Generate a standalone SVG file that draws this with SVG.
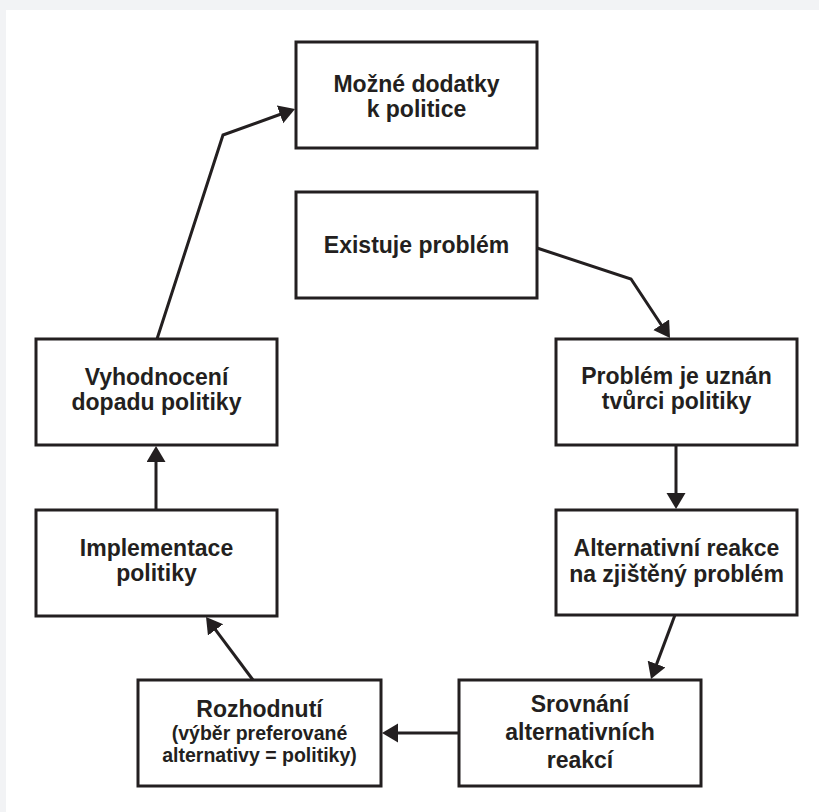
<svg xmlns="http://www.w3.org/2000/svg" width="819" height="812" viewBox="0 0 819 812">
<defs>
<style>
.box{fill:#fff;stroke:#231f20;stroke-width:3}
.t{font-family:"Liberation Sans",Arial,Helvetica,sans-serif;font-weight:bold;font-size:23px;fill:#231f20;text-anchor:middle}
.s{font-size:19.5px}
.c{fill:none;stroke:#231f20;stroke-width:3;stroke-linejoin:miter}
</style>
<marker id="ah" markerUnits="userSpaceOnUse" markerWidth="17" markerHeight="20" refX="10" refY="9.5" orient="auto">
<path d="M0,0 L16,9.5 L0,19 z" fill="#231f20"/>
</marker>
</defs>
<rect x="0" y="0" width="819" height="812" fill="#f2f3f5"/>
<rect x="6" y="10" width="813" height="802" fill="#fff"/>

<g id="n-mozne">
<rect class="box" x="296" y="42" width="241" height="106"/>
<text class="t" x="416.5" y="92">Možné dodatky</text>
<text class="t" x="416.5" y="117">k politice</text>
</g>
<g id="n-existuje">
<rect class="box" x="296" y="192" width="241" height="106"/>
<text class="t" x="416.5" y="253">Existuje problém</text>
</g>
<g id="n-uznan">
<rect class="box" x="556" y="339" width="241" height="106"/>
<text class="t" x="676.5" y="384">Problém je uznán</text>
<text class="t" x="676.5" y="409">tvůrci politiky</text>
</g>
<g id="n-alternativni">
<rect class="box" x="556" y="510" width="241" height="105"/>
<text class="t" x="676.5" y="556">Alternativní reakce</text>
<text class="t" x="676.5" y="582">na zjištěný problém</text>
</g>
<g id="n-srovnani">
<rect class="box" x="459" y="680" width="242" height="106"/>
<text class="t" x="580" y="712">Srovnání</text>
<text class="t" x="580" y="740">alternativních</text>
<text class="t" x="580" y="768">reakcí</text>
</g>
<g id="n-rozhodnuti">
<rect class="box" x="138" y="680" width="243" height="106"/>
<text class="t" x="259.5" y="717">Rozhodnutí</text>
<text class="t s" x="259.5" y="740">(výběr preferované</text>
<text class="t s" x="259.5" y="762">alternativy = politiky)</text>
</g>
<g id="n-implementace">
<rect class="box" x="36" y="510" width="241" height="106"/>
<text class="t" x="156.5" y="556">Implementace</text>
<text class="t" x="156.5" y="581">politiky</text>
</g>
<g id="n-vyhodnoceni">
<rect class="box" x="36" y="339" width="241" height="106"/>
<text class="t" x="156.5" y="385">Vyhodnocení</text>
<text class="t" x="156.5" y="410">dopadu politiky</text>
</g>

<g id="connectors">
<polyline class="c" points="537,248 631,279 666.7,333" marker-end="url(#ah)"/>
<line class="c" x1="676" y1="445" x2="676" y2="503" marker-end="url(#ah)"/>
<line class="c" x1="675" y1="615" x2="653.1" y2="673.4" marker-end="url(#ah)"/>
<line class="c" x1="459" y1="733" x2="388" y2="733" marker-end="url(#ah)"/>
<line class="c" x1="253" y1="680" x2="209.6" y2="621.8" marker-end="url(#ah)"/>
<line class="c" x1="156" y1="510" x2="156" y2="452" marker-end="url(#ah)"/>
<polyline class="c" points="157,339 223,135 289.4,111" marker-end="url(#ah)"/>
</g>
</svg>
